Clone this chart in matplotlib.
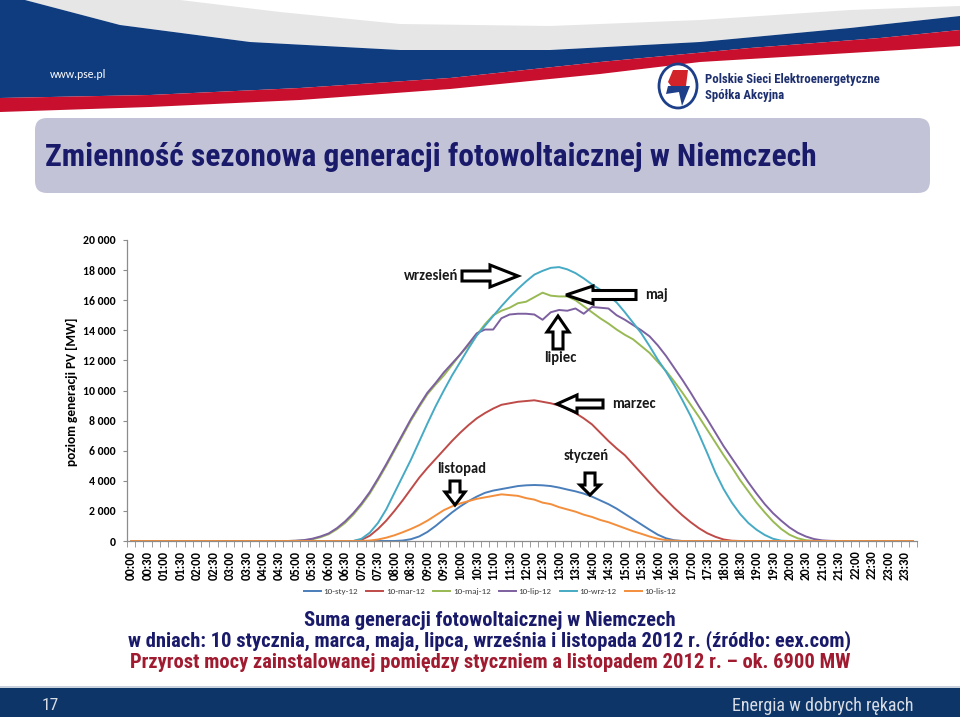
import numpy as np
import matplotlib
matplotlib.use('Agg')
import matplotlib.pyplot as plt
from matplotlib import font_manager as fm
from matplotlib.patches import Polygon, FancyBboxPatch, Ellipse, Rectangle

# ---------------- data ----------------
times = ["%02d:%02d" % (i // 4, (i % 4) * 15) for i in range(96)]
series_names = ["10-sty-12", "10-mar-12", "10-maj-12", "10-lip-12", "10-wrz-12", "10-lis-12"]

def pad(lead, vals):
    out = [0] * lead + vals
    return out + [0] * (96 - len(out))

sty = pad(33, [30, 120, 300, 600, 1000, 1450, 1900, 2300, 2650, 2950, 3200, 3350, 3450, 3550,
               3650, 3700, 3720, 3700, 3650, 3550, 3420, 3300, 3150, 2950, 2700, 2450, 2150,
               1800, 1450, 1100, 750, 420, 180, 50])
mar = pad(28, [80, 350, 800, 1350, 2000, 2700, 3450, 4200, 4850, 5450, 6050, 6650, 7200, 7700,
               8150, 8500, 8800, 9050, 9150, 9250, 9300, 9350, 9250, 9150, 9000, 8800, 8500,
               8150, 7750, 7200, 6650, 6150, 5700, 5100, 4500, 3900, 3300, 2750, 2200, 1700,
               1250, 850, 520, 280, 100, 20])
maj = pad(20, [10, 40, 110, 250, 450, 780, 1200, 1750, 2400, 3150, 4050, 5000, 6000, 7000, 8000,
               8900, 9750, 10400, 11000, 11700, 12400, 13000, 13700, 14400, 15000, 15300, 15500,
               15800, 15900, 16200, 16500, 16300, 16250, 16250, 16000, 15600, 15200, 14800,
               14450, 14050, 13700, 13400, 12950, 12500, 11900, 11300, 10600, 9850, 9050, 8250,
               7400, 6550, 5700, 4900, 4050, 3300, 2550, 1900, 1300, 800, 420, 180, 50, 10])
lip = pad(20, [20, 60, 150, 300, 500, 850, 1300, 1850, 2500, 3250, 4150, 5100, 6100, 7100, 8100,
               9000, 9850, 10500, 11200, 11800, 12400, 13100, 13800, 14050, 14050, 14800, 15050,
               15100, 15100, 15050, 14700, 15200, 15350, 15300, 15450, 15100, 15550, 15500,
               15450, 15000, 14700, 14350, 14000, 13600, 13000, 12300, 11500, 10700, 9850, 8950,
               8100, 7200, 6300, 5500, 4700, 3900, 3150, 2450, 1850, 1350, 900, 550, 300, 130,
               40, 10])
wrz = pad(28, [150, 550, 1200, 2100, 3200, 4300, 5400, 6600, 7800, 8950, 10000, 11000, 11900,
               12800, 13650, 14300, 14950, 15600, 16200, 16750, 17250, 17700, 17950, 18150,
               18200, 18050, 17800, 17450, 17050, 16700, 16300, 15850, 15200, 14500, 13800,
               12950, 12050, 11250, 10350, 9350, 8300, 7100, 5850, 4550, 3450, 2550, 1800, 1200,
               750, 400, 150, 20])
lis = pad(29, [30, 100, 220, 380, 580, 800, 1050, 1350, 1700, 2050, 2300, 2500, 2650, 2800, 2900,
               3000, 3100, 3050, 3000, 2850, 2750, 2550, 2450, 2250, 2100, 1950, 1750, 1600, 1400,
               1250, 1050, 850, 650, 480, 300, 150, 60, 20])
series = [sty, mar, maj, lip, wrz, lis]
colors = ["#4A7EBB", "#BE4B48", "#98B954", "#7D60A0", "#46AAC5", "#F38E3C"]
yticks = list(range(0, 20001, 2000))

# ---------------- fonts ----------------
names = {f.name for f in fm.fontManager.ttflist}
def pick(*c):
    for n in c:
        if n in names:
            return n
    return 'DejaVu Sans'
NARROW = pick('Liberation Sans Narrow', 'Arial Narrow', 'Nimbus Sans Narrow', 'Roboto Condensed', 'Liberation Sans')
CAL = pick('Carlito', 'Calibri', 'Lato', 'Open Sans')
plt.rcParams['font.family'] = [CAL, 'DejaVu Sans']

NAVY = '#1A1A6B'
fig = plt.figure(figsize=(9.6, 7.17), dpi=100)
bg = fig.add_axes([0, 0, 1, 1])
bg.set_xlim(0, 960); bg.set_ylim(717, 0); bg.axis('off')

# ---------------- header swoosh ----------------
blue_top = [(0, 0), (25, 0), (120, 25), (250, 42), (400, 50), (550, 50), (700, 42), (850, 28), (960, 16)]
blue_bot = [(960, 30), (880, 38), (750, 48), (600, 62), (450, 78), (300, 88), (150, 95), (0, 98)]
red_bot = [(960, 46), (900, 50), (800, 56), (700, 62), (600, 74), (450, 89), (300, 100), (150, 107), (0, 112)]
bg.add_patch(Polygon([(25, 0), (960, 0)] + blue_top[::-1][:-1], closed=True, fc='#E6E6E6', ec='none'))
bg.add_patch(Polygon([(180, 0), (960, 0), (960, 6), (850, 10), (700, 20), (550, 26), (400, 24), (280, 12)],
                     closed=True, fc='#FFFFFF', ec='none'))
bg.add_patch(Polygon(blue_top + blue_bot, closed=True, fc='#0F3B7F', ec='none'))
bg.add_patch(Polygon(blue_bot[::-1] + red_bot, closed=True, fc='#C8102E', ec='none'))
bg.text(50, 75, "www.pse.pl", color='white', fontsize=8.5, family=CAL, va='center', ha='left')

# logo
bg.add_patch(Ellipse((678, 86), 38, 44, fc='white', ec='#1D3F8A', lw=2))
bg.add_patch(Polygon([(673, 70), (688, 70), (686, 86), (671, 86), (668, 82)], closed=True, fc='#D2232A', ec='none'))
bg.add_patch(Polygon([(668, 86), (690, 86), (682, 106), (679, 92), (666, 94)], closed=True, fc='#1D3F8A', ec='none'))
bg.text(705, 80, "Polskie Sieci Elektroenergetyczne", color='#1D2F6E', fontsize=9.2, family=NARROW,
        fontweight='bold', va='center', ha='left')
bg.text(705, 95, "Spółka Akcyjna", color='#1D2F6E', fontsize=9.2, family=NARROW,
        fontweight='bold', va='center', ha='left')

# title box
bg.add_patch(FancyBboxPatch((35, 118), 895, 75, boxstyle='round,pad=0,rounding_size=12',
                            fc='#C3C3D8', ec='none'))
bg.text(45, 157, "Zmienność sezonowa generacji fotowoltaicznej w Niemczech", color=NAVY,
        fontsize=22.7, family=NARROW, fontweight='bold', va='center', ha='left')

# footer
bg.add_patch(Rectangle((0, 688), 960, 29, fc='#0D3568', ec='none'))
bg.add_patch(Rectangle((0, 686), 960, 2, fc='#C9D1DD', ec='none'))
bg.text(42, 706, "17", color='#D8DCE4', fontsize=12.5, family=NARROW, va='center', ha='left')
bg.text(913, 706, "Energia w dobrych rękach", color='#D8DCE4', fontsize=13, family=NARROW,
        va='center', ha='right')

# bottom captions
cap = dict(fontsize=14.8, family=NARROW, fontweight='bold', va='center', ha='center')
bg.text(490, 620, "Suma generacji fotowoltaicznej w Niemczech", color=NAVY, **cap)
bg.text(490, 641, "w dniach: 10 stycznia, marca, maja, lipca, września i listopada 2012 r. (źródło: eex.com)",
        color=NAVY, **cap)
bg.text(490, 663, "Przyrost mocy zainstalowanej pomiędzy styczniem a listopadem 2012 r. – ok. 6900 MW",
        color='#A01A30', **cap)

# ---------------- chart ----------------
x = np.arange(96)
ax = fig.add_axes([127 / 960, (717 - 541) / 717, 790 / 960, 301 / 717])
ax.set_facecolor('none')
for s, c, n in zip(series, colors, series_names):
    ax.plot(x, s, color=c, lw=1.4, label=n, solid_joinstyle='round')
ax.set_xlim(-0.5, 95.5)
ax.set_ylim(0, 20000)
for sp in ['top', 'right']:
    ax.spines[sp].set_visible(False)
for sp in ['left', 'bottom']:
    ax.spines[sp].set_color('#8C8C8C'); ax.spines[sp].set_linewidth(0.9)
ax.set_yticks(yticks)
ax.set_yticklabels([f"{v:,}".replace(",", " ") for v in yticks], fontweight='bold', fontsize=8.5)
ax.tick_params(axis='y', length=3, color='#8C8C8C', pad=5)
ax.set_xticks(x[::2])
ax.set_xticklabels(times[::2], rotation=90, fontweight='bold', fontsize=9)
ax.set_xticks(np.arange(-0.5, 96, 1), minor=True)
ax.tick_params(axis='x', which='major', length=0, pad=7)
ax.tick_params(axis='x', which='minor', length=4, color='#8C8C8C')

bg.text(72, 392, "poziom generacji PV [MW]", rotation=90, fontweight='bold', fontsize=9.6,
        va='center', ha='center')

leg = ax.legend(loc='center', bbox_to_anchor=(490 / 960, (717 - 591) / 717),
                bbox_transform=fig.transFigure, ncol=6, frameon=False, fontsize=6.5,
                handlelength=1.9, handletextpad=0.3, columnspacing=0.9)
for t in leg.get_texts():
    t.set_color('#404040')

# ---------------- annotations (block arrows) ----------------
ov = fig.add_axes([0, 0, 1, 1], zorder=5)
ov.set_xlim(0, 960); ov.set_ylim(717, 0); ov.axis('off'); ov.patch.set_alpha(0)

def block_arrow(tip, direction, length, bw, hw, hl):
    tx, ty = tip
    pts = [(0, 0), (-hl, hw / 2), (-hl, bw / 2), (-length, bw / 2), (-length, -bw / 2),
           (-hl, -bw / 2), (-hl, -hw / 2)]
    c, s = {'right': (1, 0), 'left': (-1, 0), 'down': (0, 1), 'up': (0, -1)}[direction]
    out = [(tx + px * c - py * s, ty + px * s + py * c) for px, py in pts]
    ov.add_patch(Polygon(out, closed=True, fc='white', ec='black', lw=2.2, joinstyle='miter'))

block_arrow((518, 276), 'right', 56, 10, 22, 28)
block_arrow((566, 295), 'left', 70, 9, 18, 27)
block_arrow((558, 316), 'up', 33, 10, 22, 16)
block_arrow((557, 404), 'left', 46, 8, 18, 20)
block_arrow((455, 505), 'down', 24, 10, 20, 13)
block_arrow((590, 495), 'down', 22, 10, 20, 10)

akw = dict(fontweight='bold', fontsize=10.5, va='center', color='#1A1A1A')
ov.text(431, 276, "wrzesień", ha='center', **akw)
ov.text(657, 295, "maj", ha='center', **akw)
ov.text(560, 358, "lipiec", ha='center', **akw)
ov.text(634, 404, "marzec", ha='center', **akw)
ov.text(462, 469, "listopad", ha='center', **akw)
ov.text(586, 456, "styczeń", ha='center', **akw)

fig.savefig('out.png', dpi=100)
